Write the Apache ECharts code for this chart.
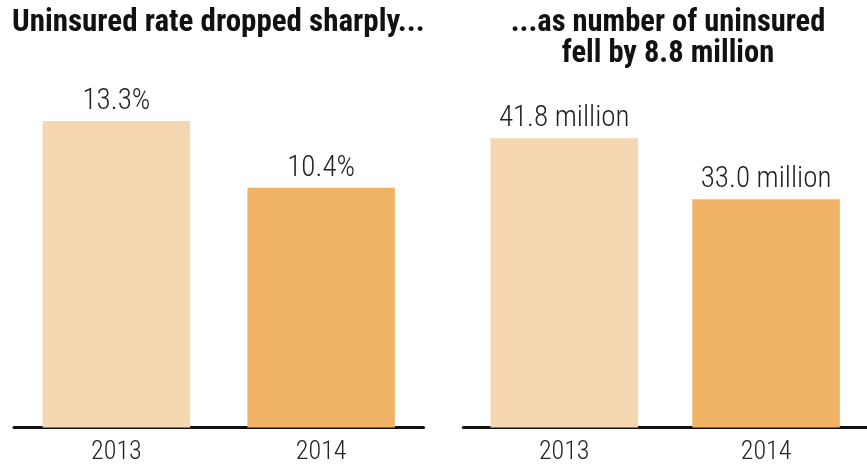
<!DOCTYPE html>
<html>
<head>
<meta charset="utf-8">
<script src="https://cdn.jsdelivr.net/npm/echarts@6/dist/echarts.min.js"></script>
<style>html,body{margin:0;padding:0;background:#fff}#c{width:867px;height:468px}</style>
</head>
<body>
<div id="c"></div>
<script>
var years = ['2013', '2014'];
var rateValues = [13.3, 10.4];
var countValues = [41.8, 33.0];
var leftTitle = 'Uninsured rate dropped sharply...';
var rightTitle = ['...as number of uninsured', 'fell by 8.8 million'];
var barColors = ['#F7D7B1', '#F0B264'];

var FONT = "'Liberation Sans Narrow', 'Roboto Condensed', 'Arial Narrow', Roboto, sans-serif";
var chart = echarts.init(document.getElementById('c'), null, {renderer: 'canvas'});

function xAx(idx) {
  return {
    type: 'category', gridIndex: idx, data: years,
    axisLine: {show: true, lineStyle: {color: '#111', width: 3}},
    axisTick: {show: false},
    axisLabel: {color: '#222', fontFamily: FONT, fontWeight: 300, fontSize: 26, margin: 12}
  };
}
function yAx(idx, max) {
  return {type: 'value', gridIndex: idx, min: 0, max: max, show: false, splitLine: {show: false}};
}
function barData(vals) {
  return vals.map(function (v, i) { return {value: v, itemStyle: {color: barColors[i]}}; });
}

chart.setOption({
  animation: false,
  backgroundColor: '#fff',
  grid: [
    {left: 14, width: 409.5, top: 81.8, bottom: 40.5},
    {left: 463.3, width: 409.5, top: 81.5, bottom: 40.5}
  ],
  xAxis: [xAx(0), xAx(1)],
  yAxis: [yAx(0, 15), yAx(1, 50)],
  series: [
    {
      type: 'bar', xAxisIndex: 0, yAxisIndex: 0, barWidth: 147.5,
      data: barData(rateValues),
      label: {show: true, position: 'top', distance: 5, color: '#222', fontFamily: FONT, fontWeight: 300, fontSize: 29,
        formatter: function (p) { return p.value.toFixed(1) + '%'; }}
    },
    {
      type: 'bar', xAxisIndex: 1, yAxisIndex: 1, barWidth: 147.5,
      data: barData(countValues),
      label: {show: true, position: 'top', distance: 5, color: '#222', fontFamily: FONT, fontWeight: 300, fontSize: 29,
        formatter: function (p) { return p.value.toFixed(1) + ' million'; }}
    }
  ],
  graphic: [
    {type: 'text', left: 12, top: 8, style: {text: leftTitle, fill: '#111', font: 'bold 31px ' + FONT}},
    {type: 'text', x: 668, y: 8, style: {text: rightTitle.join('\n'), fill: '#111', font: 'bold 30.5px ' + FONT, align: 'center', verticalAlign: 'top', lineHeight: 31}}
  ]
});
</script>
</body>
</html>
